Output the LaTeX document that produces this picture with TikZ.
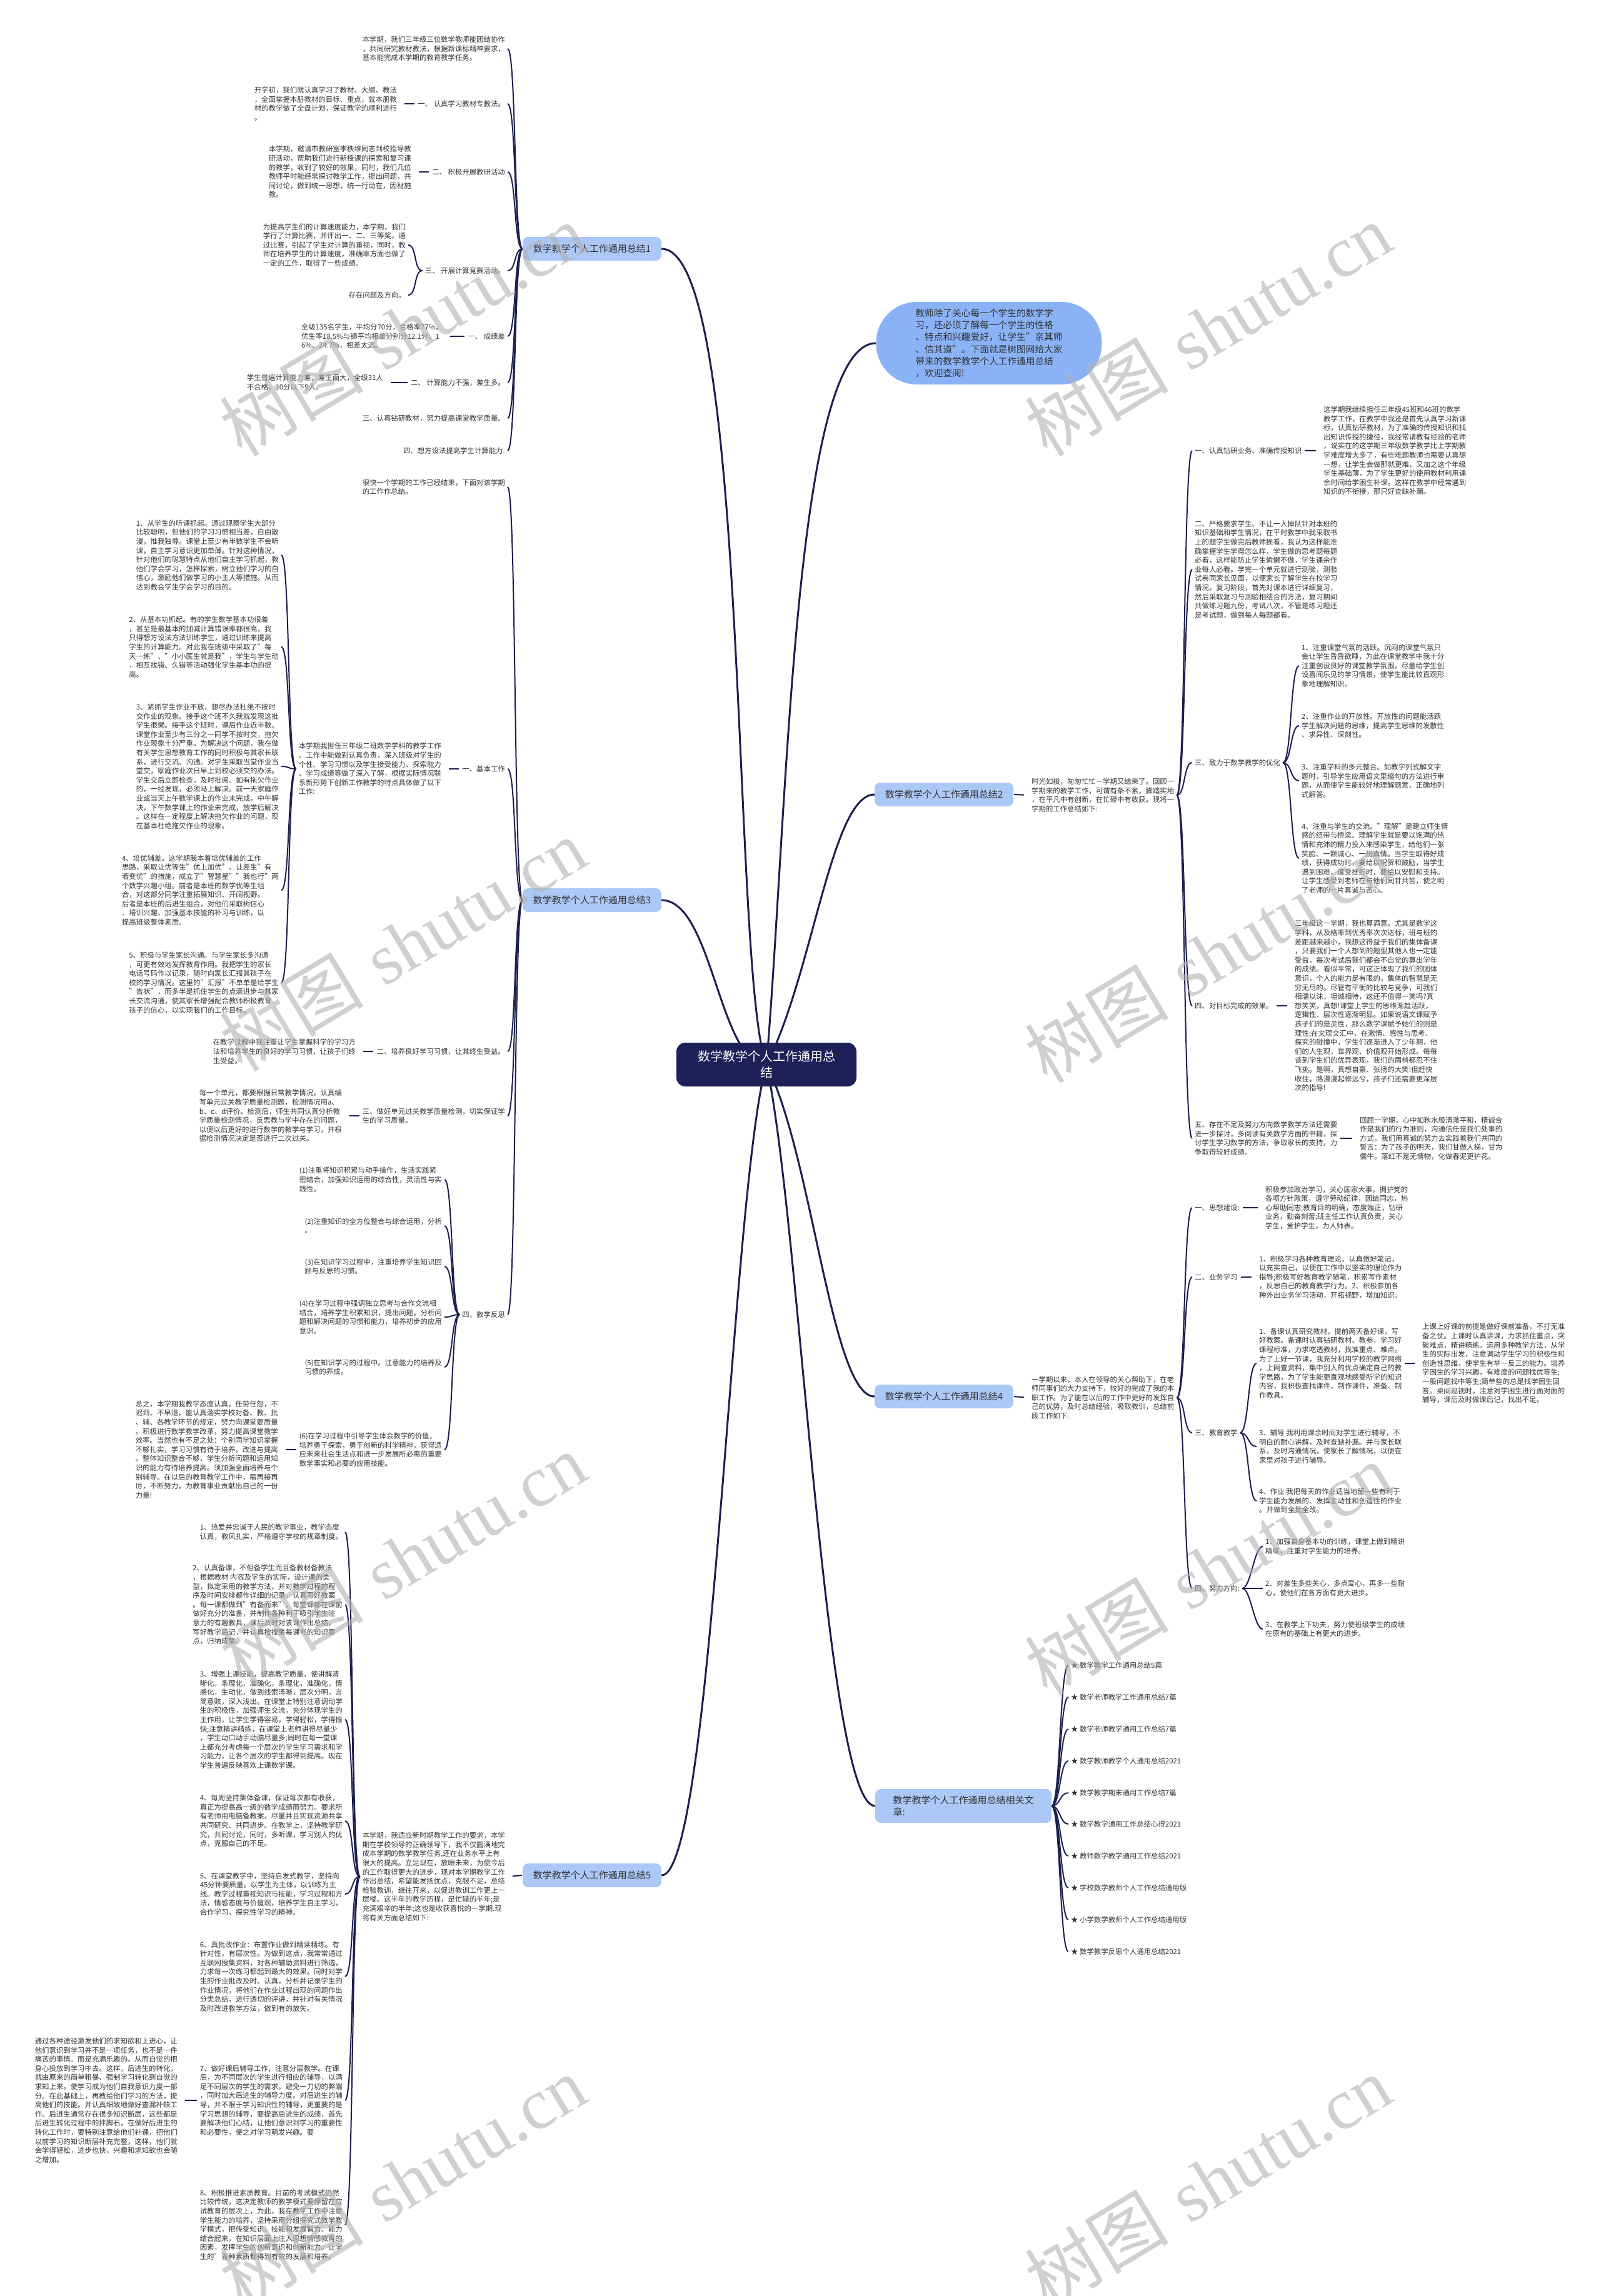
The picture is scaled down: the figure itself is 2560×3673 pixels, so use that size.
\documentclass[tikz,border=0pt]{standalone}
\usepackage{fontspec}
\setmainfont{Noto Sans CJK SC}
\newfontfamily\wmserif{Liberation Serif}
\usetikzlibrary{backgrounds}
\definecolor{navy}{HTML}{1C1F4E}
\definecolor{cfill}{HTML}{1E2157}
\definecolor{brfill}{HTML}{ABC8F6}
\definecolor{bubble}{HTML}{8AB3F7}
\definecolor{tx}{HTML}{333333}
\tikzset{
  txt/.style={font=\fontsize{11.4}{14.6}\selectfont, text=tx, align=left, inner xsep=4pt, inner ysep=1pt},
  brn/.style={fill=brfill, rounded corners=9pt, text=tx, font=\fontsize{15}{19}\selectfont, align=left, minimum width=222pt, minimum height=38pt, inner sep=0pt},
  mainln/.style={draw=navy, line width=3pt},
  subln/.style={draw=navy, line width=2pt},
  wm/.style={font=\fontsize{115}{115}\selectfont, text=black!30, text opacity=0.6, rotate=31}
}
\newcommand{\cnL}[2]{\draw[subln] (#1.west) .. controls +(-14,0) and +(14,0) .. (#2.east);}
\newcommand{\cnR}[2]{\draw[subln] (#1.east) .. controls +(14,0) and +(-14,0) .. (#2.west);}
\newcommand{\stL}[2]{\draw[subln, shorten <=1pt, shorten >=8pt] (#1.west) -- (#2.east);}
\newcommand{\stR}[2]{\draw[subln, shorten <=1pt, shorten >=8pt] (#1.east) -- (#2.west);}
\begin{document}
\begin{tikzpicture}[x=1pt,y=-1pt]
\useasboundingbox (0,0) rectangle (2560,3673);

% ---------- centre and branches ----------
\node[fill=cfill, rounded corners=14pt, minimum width=288pt, minimum height=70pt, text=white, font=\fontsize{20}{26}\selectfont, align=center, inner sep=0pt] (c) at (1226,1703) {数学教学个人工作通用总\\结};
\node[fill=bubble, rounded corners=65pt, minimum width=361pt, minimum height=132pt, font=\fontsize{14.7}{19.2}\selectfont, text=tx, align=left, inner sep=0pt] (intro) at (1582,549) {教师除了关心每一个学生的数学学\\习，还必须了解每一个学生的性格\\、特点和兴趣爱好，让学生"亲其师\\、信其道"。下面就是树图网给大家\\带来的数学教学个人工作通用总结\\，欢迎查阅!};
\node[brn] (b1) at (947,398) {数学教学个人工作通用总结1};
\node[brn] (b3) at (947,1440) {数学教学个人工作通用总结3};
\node[brn] (b5) at (947,3000) {数学教学个人工作通用总结5};
\node[brn] (b2) at (1510,1271) {数学教学个人工作通用总结2};
\node[brn] (b4) at (1510,2234) {数学教学个人工作通用总结4};
\node[brn, minimum width=282pt, minimum height=54pt] (b6) at (1541,2889) {数学教学个人工作通用总结相关文\\章:};

% ---------- branch 1 ----------
\node[txt, anchor=east] (n1a) at (812,78) {本学期，我们三年级三位数学教师能团结协作\\，共同研究教材教法，根据新课标精神要求，\\基本能完成本学期的教育教学任务。};
\node[txt, anchor=east] (n1b) at (812,166) {一、 认真学习教材专教法。};
\node[txt, anchor=east] (n1b1) at (639,166) {开学初，我们就认真学习了教材、大纲、教法\\，全面掌握本册教材的目标、重点，就本册教\\材的教学做了全盘计划，保证教学的顺利进行\\。};
\node[txt, anchor=east] (n1c) at (812,275) {二、 积极开展教研活动};
\node[txt, anchor=east] (n1c1) at (662,275) {本学期，邀请市教研室李秩维同志到校指导教\\研活动，帮助我们进行新授课的探索和复习课\\的教学，收到了较好的效果，同时，我们几位\\教师平时能经常探讨教学工作，提出问题，共\\同讨论，做到统一思想，统一行动在，因材施\\教。};
\node[txt, anchor=east] (n1d) at (812,433) {三、 开展计算竞赛活动。};
\node[txt, anchor=east] (n1d1) at (653,392) {为提高学生们的计算速度能力，本学期，我们\\学行了计算比赛，并评出一、二、三等奖，通\\过比赛，引起了学生对计算的重视，同时，教\\师在培养学生的计算速度，准确率方面也做了\\一定的工作，取得了一些成绩。};
\node[txt, anchor=east] (n1d2) at (653,472) {存在问题及方向。};
\node[txt, anchor=east] (n1e) at (812,538) {一、 成绩差};
\node[txt, anchor=east] (n1e1) at (712,538) {全级135名学生，平均分70分，合格率77\%，\\优生率18.5\%与镇平均相差分别分12.1分、1\\6\%、24.7\%，相差太远。};
\node[txt, anchor=east] (n1f) at (812,612) {二、 计算能力不强，差生多。};
\node[txt, anchor=east] (n1f1) at (617,612) {学生普遍计算能力差，差生面大，全级31人\\不合格，10分以下9人。};
\node[txt, anchor=east] (n1g) at (812,669) {三、认真钻研教材，努力提高课堂教学质量。};
\node[txt, anchor=east] (n1h) at (812,721) {四、想方设法提高学生计算能力.};

% ---------- branch 3 ----------
\node[txt, anchor=east] (n3a) at (812,779) {很快一个学期的工作已经结束，下面对该学期\\的工作作总结。};
\node[txt, anchor=east] (n3b) at (812,1230) {一、基本工作};
\node[txt, anchor=east] (n3b1) at (710,1230) {本学期我担任三年级二班数学学科的教学工作\\。工作中能做到认真负责，深入班级对学生的\\个性、学习习惯以及学生接受能力、探索能力\\、学习成绩等做了深入了解，根据实际情况联\\系新形势下创新工作教学的特点具体做了以下\\工作:};
\node[txt, anchor=east] (n3c1) at (450,888) {1、从学生的听课抓起。通过观察学生大部分\\比较聪明，但他们的学习习惯相当差，自由散\\漫，惟我独尊。课堂上至少有半数学生不会听\\课，自主学习意识更加单薄。针对这种情况，\\针对他们的聪慧特点从他们自主学习抓起，教\\他们学会学习，怎样探索，树立他们学习的自\\信心，激励他们做学习的小主人等措施。从而\\达到教会学生学会学习的目的。};
\node[txt, anchor=east] (n3c2) at (450,1035) {2、从基本功抓起。有的学生数学基本功很差\\，甚至是最基本的加减计算错误率都很高，我\\只得想方设法方法训练学生，通过训练来提高\\学生的计算能力。对此我在班级中采取了"每\\天一练"、"小小医生就是我"，学生与学生动\\，相互找错、久错等活动强化学生基本功的提\\高。};
\node[txt, anchor=east] (n3c3) at (450,1226) {3、紧抓学生作业不放，想尽办法杜绝不按时\\交作业的现象。接手这个班不久我就发现这批\\学生很懒。接手这个班时，课后作业近半数、\\课堂作业至少有三分之一同学不按时交，拖欠\\作业现象十分严重。为解决这个问题，我在做\\有关学生思想教育工作的同时积极与其家长联\\系，进行交流、沟通。对学生采取当堂作业当\\堂交，家庭作业次日早上到校必须交的办法。\\学生交后立即检查，及时批阅。如有拖欠作业\\的，一经发现，必须马上解决。前一天家庭作\\业或当天上午数学课上的作业未完成，中午解\\决，下午数学课上的作业未完成，放学后解决\\。这样在一定程度上解决拖欠作业的问题，现\\在基本杜绝拖欠作业的现象。};
\node[txt, anchor=east] (n3c4) at (450,1424) {4、培优辅差。这学期我本着培优辅差的工作\\思路，采取让优等生"优上加优"、让差生"有\\若变优"的措施，成立了"智慧星""我也行"两\\个数学兴趣小组。前者是本班的数学优等生组\\合，对这部分同学注重拓展知识、开阔视野。\\后者是本班的后进生组合，对他们采取树信心\\、培训兴趣、加强基本技能的补习与训练，以\\提高班级整体素质。};
\node[txt, anchor=east] (n3c5) at (450,1572) {5、积极与学生家长沟通。与学生家长多沟通\\，可更有效地发挥教育作用。我把学生的家长\\电话号码作以记录，随时向家长汇报其孩子在\\校的学习情况。这里的"汇报"不单单是给学生\\"告状"，而多半是抓住学生的点滴进步与其家\\长交流沟通，使其家长增强配合教师积极教育\\孩子的信心，以实现我们的工作目标。};
\node[txt, anchor=east] (n3d) at (812,1682) {二、培养良好学习习惯，让其终生受益。};
\node[txt, anchor=east] (n3d1) at (573,1682) {在教学过程中我注重让学生掌握科学的学习方\\法和培养学生的良好的学习习惯，让孩子们终\\生受益。};
\node[txt, anchor=east] (n3e) at (812,1785) {三、做好单元过关教学质量检测，切实保证学\\生的学习质量。};
\node[txt, anchor=east] (n3e1) at (551,1785) {每一个单元，都要根据日常教学情况，认真编\\写单元过关教学质量检测题，检测情况用a、\\b、c、d评价。检测后，师生共同认真分析教\\学质量检测情况，反思教与学中存在的问题，\\以便以后更好的进行数学的教学与学习，并根\\据检测情况决定是否进行二次过关。};
\node[txt, anchor=east] (n3f) at (812,2103) {四、教学反思};
\node[txt, anchor=east] (n3g1) at (711,1887) {(1)注重将知识积累与动手操作，生活实践紧\\密结合，加强知识运用的综合性，灵活性与实\\践性。};
\node[txt, anchor=east] (n3g2) at (711,1961) {(2)注重知识的全方位整合与综合运用，分析\\。};
\node[txt, anchor=east] (n3g3) at (711,2026) {(3)在知识学习过程中，注重培养学生知识回\\顾与反思的习惯。};
\node[txt, anchor=east] (n3g4) at (711,2107) {(4)在学习过程中强调独立思考与合作交流相\\结合，培养学生积累知识，提出问题，分析问\\题和解决问题的习惯和能力，培养初步的应用\\意识。};
\node[txt, anchor=east] (n3g5) at (711,2187) {(5)在知识学习的过程中。注意能力的培养及\\习惯的养成。};
\node[txt, anchor=east] (n3g6) at (711,2319) {(6)在学习过程中引导学生体会数学的价值，\\培养勇于探索，勇于创新的科学精神，获得适\\应未来社会生活点和进一步发展所必需的重要\\数学事实和必要的应用技能。};
\node[txt, anchor=east] (n3h) at (449,2319) {总之，本学期我教学态度认真，任劳任怨，不\\迟到、不早退，能认真落实学校对备、教、批\\、辅、各教学环节的规定，努力向课堂要质量\\。积极进行数学教学改革，努力提高课堂教学\\效率。当然也有不足之处：个别同学知识掌握\\不够扎实，学习习惯有待于培养，改进与提高\\。整体知识整合不够，学生分析问题和运用知\\识的能力有待培养提高。须加强全面培养与个\\别辅导。在以后的教育教学工作中，需再接再\\厉，不断努力，为教育事业贡献出自己的一份\\力量!};

% ---------- branch 5 ----------
\node[txt, anchor=east] (n5a) at (812,3002) {本学期，我适应新时期教学工作的要求，本学\\期在学校领导的正确领导下，我不仅圆满地完\\成本学期的数学教学任务,还在业务水平上有\\很大的提高。立足现在，放眼未来，为使今后\\的工作取得更大的进步，现对本学期教学工作\\作出总结，希望能发扬优点，克服不足，总结\\检验教训，继往开来，以促进教训工作更上一\\层楼。这半年的教学历程，是忙碌的半年;是\\充满艰辛的半年;这也是收获喜悦的一学期.现\\将有关方面总结如下:};
\node[txt, anchor=east] (g1) at (552,2451) {1、热爱并忠诚于人民的教学事业，教学态度\\认真，教风扎实，严格遵守学校的规章制度。};
\node[txt, anchor=east] (g2) at (552,2567) {2、认真备课，不但备学生而且备教材备教法\\，根据教材 内容及学生的实际，设计课的类\\型，拟定采用的教学方法，并对教学过程的程\\序及时间安排都作详细的记录，认真写好教案\\。每一课都做到"有备而来"，每堂课都在课前\\做好充分的准备，并制作各种利于吸引学生注\\意力的有趣教具，课后及时对该课作出总结，\\写好教学后记，并认真按搜集每课书的知识要\\点，归纳成集。};
\node[txt, anchor=east] (g3) at (552,2751) {3、增强上课技能，提高教学质量，使讲解清\\晰化，条理化，准确化，条理化，准确化，情\\感化，生动化，做到线索清晰，层次分明，言\\简意赅，深入浅出。在课堂上特别注意调动学\\生的积极性，加强师生交流，充分体现学生的\\主作用，让学生学得容易，学得轻松，学得愉\\快;注意精讲精练，在课堂上老师讲得尽量少\\，学生动口动手动脑尽量多;同时在每一堂课\\上都充分考虑每一个层次的学生学习需求和学\\习能力，让各个层次的学生都得到提高。现在\\学生普遍反映喜欢上课数学课。};
\node[txt, anchor=east] (g4) at (552,2913) {4、每周坚持集体备课，保证每次都有收获，\\真正为提高高一级的数学成绩而努力。要求所\\有老师用电脑备教案，尽量并且实现资源共享\\共同研究、共同进步。在教学上，坚持教学研\\究，共同讨论，同时，多听课，学习别人的优\\点，克服自己的不足。};
\node[txt, anchor=east] (g5) at (552,3030) {5、在课堂教学中，坚持启发式教学，坚持向\\45分钟要质量。以学生为主体，以训练为主\\线。教学过程重视知识与技能，学习过程和方\\法，情感态度与价值观，培养学生自主学习，\\合作学习，探究性学习的精神。};
\node[txt, anchor=east] (g6) at (552,3162) {6、真批改作业：布置作业做到精读精练。有\\针对性，有层次性。为做到这点，我常常通过\\互联网搜集资料，对各种辅助资料进行筛选，\\力求每一次练习都起到最大的效果。同时对学\\生的作业批改及时、认真，分析并记录学生的\\作业情况，将他们在作业过程出现的问题作出\\分类总结，进行透切的评讲，并针对有关情况\\及时改进教学方法，做到有的放矢。};
\node[txt, anchor=east] (g7) at (552,3360) {7、做好课后辅导工作，注意分层教学。在课\\后，为不同层次的学生进行相应的辅导，以满\\足不同层次的学生的需求，避免一刀切的弊端\\，同时加大后进生的辅导力度。对后进生的辅\\导，并不限于学习知识性的辅导，更重要的是\\学习思想的辅导，要提高后进生的成绩，首先\\要解决他们心结，让他们意识到学习的重要性\\和必要性，使之对学习萌发兴趣。要};
\node[txt, anchor=east] (g7d) at (288,3360) {通过各种途径激发他们的求知欲和上进心，让\\他们意识到学习并不是一项任务，也不是一件\\痛苦的事情。而是充满乐趣的。从而自觉的把\\身心投放到学习中去。这样，后进生的转化，\\就由原来的简单粗暴、强制学习转化到自觉的\\求知上来。使学习成为他们自我意识力度一部\\分。在此基础上，再教给他们学习的方法，提\\高他们的技能。并认真细致地做好查漏补缺工\\作。后进生通常存在很多知识断层，这些都是\\后进生转化过程中的拌脚石，在做好后进生的\\转化工作时，要特别注意给他们补课，把他们\\以前学习的知识断层补充完整，这样，他们就\\会学得轻松，进步也快，兴趣和求知欲也会随\\之增加。};
\node[txt, anchor=east] (g8) at (552,3559) {8、积极推进素质教育。目前的考试模式仍然\\比较传统，这决定教师的教学模式要停留在应\\试教育的层次上，为此，我在教学工作中注意\\学生能力的培养，坚持采用分组探究式数学教\\学模式，把传受知识、技能和发展智力、能力\\结合起来，在知识层面上注入思想情感教育的\\因素，发挥学生的创新意识和创新能力。让学\\生的'各种素质都得到有效的发展和培养。};

% ---------- branch 2 ----------
\node[txt, anchor=west] (n2a) at (1646,1272) {时光如梭，匆匆忙忙一学期又结束了。回顾一\\学期来的教学工作，可谓有条不紊，脚踏实地\\，在平凡中有创新，在忙碌中有收获。现将一\\学期的工作总结如下:};
\node[txt, anchor=west] (h1) at (1907,721) {一、认真钻研业务、准确传授知识};
\node[txt, anchor=west] (h1d) at (2113,721) {这学期我继续担任三年级45班和46班的数学\\教学工作，在教学中我还是首先认真学习新课\\标，认真钻研教材，为了准确的传授知识和找\\出知识传授的捷径，我经常请教有经验的老师\\，说实在的这学期三年级数学教学比上学期教\\学难度增大多了，有些难题教师也需要认真想\\一想，让学生会做那就更难，又加之这个年级\\学生基础薄，为了学生更好的使用教材利用课\\余时间给学困生补课。这样在教学中经常遇到\\知识的不衔接，那只好查缺补漏。};
\node[txt, anchor=west] (h2) at (1907,911) {二、严格要求学生、不让一人掉队针对本班的\\知识基础和学生情况，在平时教学中我采取书\\上的题学生做完后教师挨看，我认为这样能准\\确掌握学生学得怎么样，学生做的思考题每题\\必看，这样能防止学生偷懒不做，学生课余作\\业每人必看。学完一个单元就进行测验，测验\\试卷同家长见面，以便家长了解学生在校学习\\情况。复习阶段，首先对课本进行详细复习，\\然后采取复习与测验相结合的方法，复习期间\\共做练习题九份，考试八次，不管是练习题还\\是考试题，做到每人每题都看。};
\node[txt, anchor=west] (h3) at (1907,1220) {三、致力于数学教学的优化};
\node[txt, anchor=west] (i1) at (2078,1065) {1、注重课堂气氛的活跃。沉闷的课堂气氛只\\会让学生昏昏欲睡，为此在课堂教学中我十分\\注重创设良好的课堂教学氛围，尽量给学生创\\设喜闻乐见的学习情景，使学生能比较直观形\\象地理解知识。};
\node[txt, anchor=west] (i2) at (2078,1161) {2、注重作业的开放性。开放性的问题能活跃\\学生解决问题的思维，提高学生思维的发散性\\、求异性、深刻性。};
\node[txt, anchor=west] (i3) at (2078,1249) {3、注重学科的多元整合。如教学列式解文字\\题时，引导学生应用语文里缩句的方法进行审\\题，从而使学生能较好地理解题意，正确地列\\式解答。};
\node[txt, anchor=west] (i4) at (2078,1373) {4、注重与学生的交流。"理解"是建立师生情\\感的纽带与桥梁。理解学生就是要以饱满的热\\情和充沛的精力投入来感染学生，给他们一张\\笑脸、一颗诚心、一份真情。当学生取得好成\\绩，获得成功时，要给以祝贺和鼓励，当学生\\遇到困难，遭受挫折时，要给以安慰和支持。\\让学生感受到老师在与他们同甘共苦，使之明\\了老师的一片真诚与苦心。};
\node[txt, anchor=west] (h4) at (1907,1609) {四、对目标完成的效果。};
\node[txt, anchor=west] (h4d) at (2067,1609) {三年级这一学期，我也算满意。尤其是数学这\\学科，从及格率到优秀率次次达标，班与班的\\差距越来越小，我想这得益于我们的集体备课\\，只要我们一个人想到的题型其他人也一定能\\受益，每次考试后我们都会不自觉的算出学年\\的成绩。看似平常，可这正体现了我们的团体\\意识，个人的能力是有限的，集体的智慧是无\\穷无尽的。尽管有平衡的比较与竞争，可我们\\相濡以沫，坦诚相待，这还不值得一笑吗?真\\想笑笑，真想!课堂上学生的思维渐趋活跃，\\逻辑性、层次性逐渐明显。如果说语文课赋予\\孩子们的是灵性，那么数学课赋予她们的则是\\理性;在文理交汇中，在激情、感性与思考、\\探究的碰撞中，学生们逐渐进入了少年期，他\\们的人生观，世界观、价值观开始形成。每每\\谈到学生们的优异表现，我们的眉梢都忍不住\\飞挑。是啊，真想自豪、张扬的大笑!但赶快\\收住，路漫漫起修远兮，孩子们还需要更深层\\次的指导!};
\node[txt, anchor=west] (h5) at (1907,1821) {五、存在不足及努力方向数学教学方法还需要\\进一步探讨，多阅读有关数学方面的书籍，探\\讨学生学习数学的方法，争取家长的支持，力\\争取得较好成绩。};
\node[txt, anchor=west] (h5d) at (2171,1821) {回顾一学期，心中如秋水般清澈平和，精诚合\\作是我们的行为准则，沟通信任是我们处事的\\方式，我们用真诚的努力去实践着我们共同的\\誓言：为了孩子的明天，我们甘做人梯，甘为\\儒牛。落红不是无情物，化做春泥更护花。};

% ---------- branch 4 ----------
\node[txt, anchor=west] (n4a) at (1646,2236) {一学期以来，本人在领导的关心帮助下，在老\\师同事们的大力支持下，较好的完成了我的本\\职工作。为了能在以后的工作中更好的发挥自\\己的优势，及时总结经验，吸取教训，总结前\\段工作如下:};
\node[txt, anchor=west] (j1) at (1907,1932) {一、思想建设:};
\node[txt, anchor=west] (j1d) at (2020,1932) {积极参加政治学习，关心国家大事，拥护党的\\各项方针政策，遵守劳动纪律，团结同志，热\\心帮助同志;教育目的明确，态度端正，钻研\\业务，勤奋刻苦;班主任工作认真负责，关心\\学生，爱护学生，为人师表。};
\node[txt, anchor=west] (j2) at (1907,2043) {二、业务学习};
\node[txt, anchor=west] (j2d) at (2010,2043) {1、积极学习各种教育理论，认真做好笔记，\\以充实自己，以便在工作中以坚实的理论作为\\指导;积极写好教育教学随笔，积累写作素材\\，反思自己的教育教学行为。2、积极参加各\\种外出业务学习活动，开拓视野，增加知识。};
\node[txt, anchor=west] (j3) at (1907,2292) {三、教育教学};
\node[txt, anchor=west] (k1) at (2010,2181) {1、备课认真研究教材，提前两天备好课，写\\好教案。备课时认真钻研教材、教参，学习好\\课程标准，力求吃透教材，找准重点、难点。\\为了上好一节课，我充分利用学校的教学网络\\，上网查资料，集中别人的优点确定自己的教\\学思路，为了学生能更直观地感受所学的知识\\内容，我积极查找课件，制作课件，准备、制\\作教具。};
\node[txt, anchor=west] (k1d) at (2271,2181) {上课上好课的前提是做好课前准备，不打无准\\备之仗。上课时认真讲课，力求抓住重点，突\\破难点，精讲精练。运用多种教学方法，从学\\生的实际出发，注意调动学生学习的积极性和\\创造性思维，使学生有举一反三的能力。培养\\学困生的学习兴趣，有难度的问题找优等生;\\一般问题找中等生;简单些的总是找学困生回\\答。桌间巡视时，注意对学困生进行面对面的\\辅导，课后及时做课后记，找出不足。};
\node[txt, anchor=west] (k2) at (2010,2314) {3、辅导 我利用课余时间对学生进行辅导，不\\明白的耐心讲解，及时查缺补漏。并与家长联\\系，及时沟通情况，使家长了解情况，以便在\\家里对孩子进行辅导。};
\node[txt, anchor=west] (k3) at (2010,2401) {4、作业 我把每天的作业适当地留一些有利于\\学生能力发展的、发挥主动性和创造性的作业\\。并做到全批全改。};
\node[txt, anchor=west] (j4) at (1907,2541) {四、努力方向:};
\node[txt, anchor=west] (l1) at (2020,2474) {1、加强自身基本功的训练，课堂上做到精讲\\精练，注重对学生能力的培养。};
\node[txt, anchor=west] (l2) at (2020,2541) {2、对差生多些关心，多点爱心，再多一些耐\\心，使他们在各方面有更大进步。};
\node[txt, anchor=west] (l3) at (2020,2606) {3、在教学上下功夫，努力使班级学生的成绩\\在原有的基础上有更大的进步。};

% ---------- branch 6 ----------
\node[txt, anchor=west] (r1) at (1709,2664) {★ 数学教学工作通用总结5篇};
\node[txt, anchor=west] (r2) at (1709,2715) {★ 数学老师教学工作通用总结7篇};
\node[txt, anchor=west] (r3) at (1709,2766) {★ 数学老师教学通用工作总结7篇};
\node[txt, anchor=west] (r4) at (1709,2817) {★ 数学教师教学个人通用总结2021};
\node[txt, anchor=west] (r5) at (1709,2868) {★ 数学教学期末通用工作总结7篇};
\node[txt, anchor=west] (r6) at (1709,2918) {★ 数学教学通用工作总结心得2021};
\node[txt, anchor=west] (r7) at (1709,2969) {★ 教师数学教学通用工作总结2021};
\node[txt, anchor=west] (r8) at (1709,3020) {★ 学校数学教师个人工作总结通用版};
\node[txt, anchor=west] (r9) at (1709,3071) {★ 小学数学教师个人工作总结通用版};
\node[txt, anchor=west] (r10) at (1709,3122) {★ 数学教学反思个人通用总结2021};

% ---------- connectors ----------
\begin{scope}[on background layer]
\fill[white] (0,0) rectangle (2560,3673);
\draw[mainln] (c.center) .. controls (1170,1560) and (1200,398) .. (b1.east);
\draw[mainln] (c.center) .. controls (1150,1703) and (1140,1440) .. (b3.east);
\draw[mainln] (c.center) .. controls (1170,1900) and (1140,3000) .. (b5.east);
\draw[mainln] (c.center) .. controls (1260,1300) and (1270,549) .. (intro.west);
\draw[mainln] (c.center) .. controls (1300,1560) and (1330,1271) .. (b2.west);
\draw[mainln] (c.center) .. controls (1300,1850) and (1330,2234) .. (b4.west);
\draw[mainln] (c.center) .. controls (1280,1950) and (1320,2889) .. (b6.west);
% branch 1
\cnL{b1}{n1a} \cnL{b1}{n1b} \cnL{b1}{n1c} \cnL{b1}{n1d}
\cnL{b1}{n1e} \cnL{b1}{n1f} \cnL{b1}{n1g} \cnL{b1}{n1h}
\stL{n1b}{n1b1} \stL{n1c}{n1c1} \stL{n1e}{n1e1} \stL{n1f}{n1f1}
\cnL{n1d}{n1d1} \cnL{n1d}{n1d2}
% branch 3
\cnL{b3}{n3a} \cnL{b3}{n3b} \cnL{b3}{n3d} \cnL{b3}{n3e} \cnL{b3}{n3f}
\stL{n3b}{n3b1}
\cnL{n3b1}{n3c1} \cnL{n3b1}{n3c2} \cnL{n3b1}{n3c3} \cnL{n3b1}{n3c4} \cnL{n3b1}{n3c5}
\stL{n3d}{n3d1} \stL{n3e}{n3e1}
\cnL{n3f}{n3g1} \cnL{n3f}{n3g2} \cnL{n3f}{n3g3} \cnL{n3f}{n3g4} \cnL{n3f}{n3g5} \cnL{n3f}{n3g6}
\stL{n3g6}{n3h}
% branch 5
\stL{b5}{n5a}
\cnL{n5a}{g1} \cnL{n5a}{g2} \cnL{n5a}{g3} \cnL{n5a}{g4}
\cnL{n5a}{g5} \cnL{n5a}{g6} \cnL{n5a}{g7} \cnL{n5a}{g8}
\stL{g7}{g7d}
% branch 2
\stR{b2}{n2a}
\cnR{n2a}{h1} \cnR{n2a}{h2} \cnR{n2a}{h3} \cnR{n2a}{h4} \cnR{n2a}{h5}
\stR{h1}{h1d} \stR{h4}{h4d} \stR{h5}{h5d}
\cnR{h3}{i1} \cnR{h3}{i2} \cnR{h3}{i3} \cnR{h3}{i4}
% branch 4
\stR{b4}{n4a}
\cnR{n4a}{j1} \cnR{n4a}{j2} \cnR{n4a}{j3} \cnR{n4a}{j4}
\stR{j1}{j1d} \stR{j2}{j2d}
\cnR{j3}{k1} \cnR{j3}{k2} \cnR{j3}{k3}
\stR{k1}{k1d}
\cnR{j4}{l1} \cnR{j4}{l2} \cnR{j4}{l3}
% branch 6
\cnR{b6}{r1} \cnR{b6}{r2} \cnR{b6}{r3} \cnR{b6}{r4} \cnR{b6}{r5}
\cnR{b6}{r6} \cnR{b6}{r7} \cnR{b6}{r8} \cnR{b6}{r9} \cnR{b6}{r10}
\end{scope}

% ---------- watermarks ----------
\node[wm] (wm1) at (644,527) {树图\hspace{0.3em}{\wmserif shutu.cn}};
\node[wm] (wm2) at (1932,527) {树图\hspace{0.3em}{\wmserif shutu.cn}};
\node[wm] (wm3) at (644,1511) {树图\hspace{0.3em}{\wmserif shutu.cn}};
\node[wm] (wm4) at (1932,1530) {树图\hspace{0.3em}{\wmserif shutu.cn}};
\node[wm] (wm5) at (644,2494) {树图\hspace{0.3em}{\wmserif shutu.cn}};
\node[wm] (wm6) at (1932,2510) {树图\hspace{0.3em}{\wmserif shutu.cn}};
\node[wm] (wm7) at (644,3490) {树图\hspace{0.3em}{\wmserif shutu.cn}};
\node[wm] (wm8) at (1932,3490) {树图\hspace{0.3em}{\wmserif shutu.cn}};
\end{tikzpicture}
\end{document}
